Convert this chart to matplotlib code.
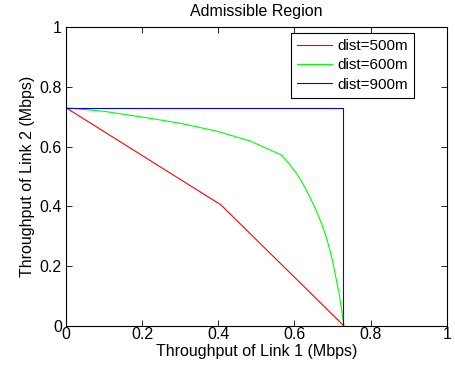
import matplotlib
matplotlib.use('Agg')
import matplotlib.pyplot as plt

plt.rcParams['font.family'] = ['Liberation Sans', 'DejaVu Sans']

# dist = 500 m
x500 = [0.0, 0.407, 0.73]
y500 = [0.73, 0.405, 0.0]

# dist = 600 m
x600 = [0.0, 0.1, 0.22, 0.3, 0.395, 0.483, 0.566, 0.585, 0.605, 0.623, 0.64,
        0.656, 0.671, 0.683, 0.693, 0.702, 0.71, 0.718, 0.724, 0.73]
y600 = [0.73, 0.718, 0.695, 0.678, 0.652, 0.619, 0.572, 0.544, 0.511, 0.474, 0.432,
        0.389, 0.343, 0.299, 0.254, 0.205, 0.154, 0.103, 0.052, 0.0]

# dist = 900 m
x900 = [0.0, 0.728, 0.728]
y900 = [0.73, 0.73, 0.0]

ticks = [0, 0.2, 0.4, 0.6, 0.8, 1]
tick_labels = ['0', '0.2', '0.4', '0.6', '0.8', '1']

fig = plt.figure(figsize=(4.55, 3.7), dpi=100)
ax = fig.add_axes([0.145, 0.119, 0.837, 0.808])

ax.plot(x500, y500, color='#ff0000', lw=0.8, label='dist=500m')
ax.plot(x600, y600, color='#00ff00', lw=0.8, label='dist=600m')
ax.plot(x900, y900, color='#0000ff', lw=0.8, label='dist=900m')

ax.set_xlim(0, 1)
ax.set_ylim(0, 1)
ax.set_xticks(ticks)
ax.set_xticklabels(tick_labels)
ax.set_yticks(ticks)
ax.set_yticklabels(tick_labels)
ax.tick_params(direction='in', top=True, right=True, length=4, width=0.6,
               labelsize=11.5)
ax.tick_params(axis='x', pad=1)
ax.tick_params(axis='y', pad=3)
for s in ax.spines.values():
  s.set_linewidth(0.8)

ax.set_title('Admissible Region', fontsize=11.5, pad=8)
ax.set_xlabel('Throughput of Link 1 (Mbps)', fontsize=11.5, labelpad=1)
ax.set_ylabel('Throughput of Link 2 (Mbps)', fontsize=11.5, labelpad=3)

leg = ax.legend(loc='upper right', bbox_to_anchor=(0.915, 0.98), fontsize=11,
                fancybox=False, edgecolor='black', framealpha=1,
                borderpad=0.4, labelspacing=0.35, handlelength=2.3,
                handletextpad=0.35, borderaxespad=0.0)
leg.get_frame().set_linewidth(0.8)

fig.savefig('out.png', dpi=100)
